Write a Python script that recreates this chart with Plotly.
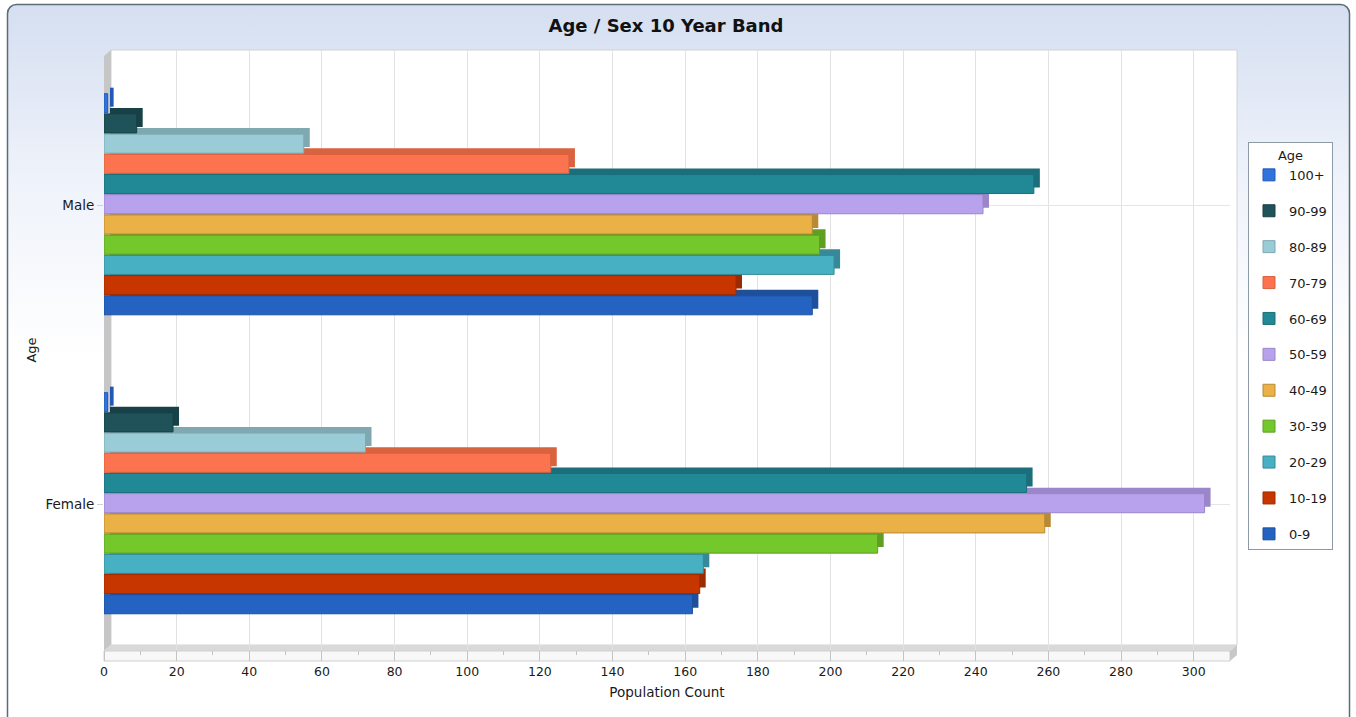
import base64
import plotly.graph_objects as go

# ---- data -------------------------------------------------------------
sexes = ["Female", "Male"]
age_bands = ["0-9", "10-19", "20-29", "30-39", "40-49", "50-59",
             "60-69", "70-79", "80-89", "90-99", "100+"]
male_counts = [195, 174, 201, 197, 195, 242, 256, 128, 55, 9, 1]
female_counts = [162, 164, 165, 213, 259, 303, 254, 123, 72, 19, 1]

front_colors = ["#2463c2", "#c83600", "#47b1c3", "#75c82c", "#eab246", "#b8a2ee",
                "#218996", "#fc7350", "#99ccd6", "#1f5259", "#2e74dc"]
depth_colors = ["#1d4f9b", "#9e2b00", "#37899a", "#5e9f24", "#b98a35", "#9a86c9",
                "#1b6f7a", "#d9623f", "#7fa9b0", "#174047", "#2258b8"]

# ---- geometry of the plot frame (pixels) ---------------------------------
W, H = 1356, 717
L, R, T, B = 104, 126, 50, 67
PW, PH = W - L - R, H - T - B
X_MAX = 310


def px(xp):
    return (xp - L) / PW


def py(yp):
    return 1 - (yp - T) / PH


slot = 0.0676        # bar pitch in category units
bar_w = 0.0636
depth_x = 6 * X_MAX / PW        # 3-D depth, value units
depth_y = 6 / 298               # 3-D depth, category units
n = len(age_bands)

fig = go.Figure()
for i, band in enumerate(age_bands):
    vals = [female_counts[i], male_counts[i]]
    off = (i - (n - 1) / 2) * slot - bar_w / 2 + 0.004
    rank = n - i
    # receding top/side face of the block
    fig.add_trace(go.Bar(
        y=sexes, x=vals, base=depth_x, orientation="h",
        offset=off + depth_y, width=bar_w,
        marker=dict(color=depth_colors[i], line=dict(width=0)),
        showlegend=False, legendgroup=band, legendrank=rank, hoverinfo="skip"))
    # front face
    fig.add_trace(go.Bar(
        y=sexes, x=vals, orientation="h", name=band,
        offset=off, width=bar_w, legendgroup=band, legendrank=rank,
        marker=dict(color=front_colors[i], line=dict(color=depth_colors[i], width=1))))

# ---- panel background with a soft blue gradient -------------------------
svg = f'''<svg xmlns="http://www.w3.org/2000/svg" width="{W}" height="{H}" viewBox="0 0 {W} {H}" preserveAspectRatio="none">
<defs><linearGradient id="g" x1="0" y1="0" x2="0" y2="1">
<stop offset="0" stop-color="#d5dff1"/><stop offset="0.22" stop-color="#eef2fa"/>
<stop offset="0.45" stop-color="#ffffff"/><stop offset="1" stop-color="#ffffff"/></linearGradient></defs>
<rect x="7.5" y="4.5" width="1342" height="780" rx="9" ry="9" fill="url(#g)" stroke="#5d6b78" stroke-width="1.5"/>
</svg>'''
src = "data:image/svg+xml;base64," + base64.b64encode(svg.encode()).decode()

shapes = [
    # back wall
    dict(type="rect", xref="paper", yref="paper", x0=px(111), x1=px(1237), y0=py(645), y1=py(50),
         fillcolor="#ffffff", line=dict(color="#d2d2d2", width=1), layer="below"),
    # left wall
    dict(type="path", xref="paper", yref="paper",
         path=f"M {px(104)} {py(56)} L {px(111)} {py(50)} L {px(111)} {py(645)} L {px(104)} {py(651)} Z",
         fillcolor="#c6c6c6", line=dict(width=0), layer="between"),
    # floor
    dict(type="path", xref="paper", yref="paper",
         path=f"M {px(104)} {py(651)} L {px(111)} {py(645)} L {px(1237)} {py(645)} L {px(1230)} {py(651)} Z",
         fillcolor="#d9d9d9", line=dict(width=0), layer="between"),
    # axis band
    dict(type="rect", xref="paper", yref="paper", x0=px(104), x1=px(1230), y0=py(661), y1=py(651),
         fillcolor="#f8f8f8", line=dict(color="#d0d0d0", width=1), layer="below"),
    dict(type="path", xref="paper", yref="paper",
         path=f"M {px(1230)} {py(651)} L {px(1237)} {py(645)} L {px(1237)} {py(655)} L {px(1230)} {py(661)} Z",
         fillcolor="#c8c8c8", line=dict(width=0), layer="below"),
]

font_family = "DejaVu Sans"
fig.update_layout(
    width=W, height=H,
    margin=dict(l=L, r=R, t=T, b=B),
    barmode="overlay",
    paper_bgcolor="#ffffff",
    plot_bgcolor="rgba(0,0,0,0)",
    font=dict(family=font_family, size=12, color="#1a1a1a"),
    title=dict(text="<b>Age / Sex 10 Year Band</b>", x=666 / W, xref="container", xanchor="center",
               y=1 - 26 / H, yref="container", yanchor="middle",
               font=dict(family=font_family, size=18, color="#111111")),
    images=[dict(source=src, xref="paper", yref="paper", x=px(0), y=py(0),
                 sizex=W / PW, sizey=H / PH, xanchor="left", yanchor="top",
                 sizing="stretch", layer="below")],
    shapes=shapes,
    xaxis=dict(range=[0, X_MAX], dtick=20, tick0=0, showgrid=True, gridcolor="#e2e2e2",
               zeroline=False, showline=False, ticks="outside", ticklen=10, tickcolor="#c4c4c4",
               minor=dict(dtick=10, ticks="outside", ticklen=4, tickcolor="#c4c4c4", showgrid=False),
               title=dict(text="Population Count", standoff=9, font=dict(size=13.5)),
               tickfont=dict(size=12.5)),
    yaxis=dict(type="category", categoryorder="array", categoryarray=sexes,
               range=[-0.487, 1.52], showgrid=True, gridcolor="#e6e6e6", zeroline=False,
               ticks="outside", ticklen=6, tickcolor="#d0d0d0", showline=False,
               title=dict(text="Age", standoff=5, font=dict(size=13)), tickfont=dict(size=13.5)),
    legend=dict(x=px(1248), y=py(142), xanchor="left", yanchor="top",
                traceorder="grouped", tracegroupgap=16,
                bgcolor="#ffffff", bordercolor="#8d9aa6", borderwidth=1,
                font=dict(size=13),
                title=dict(text="Age", side="top center", font=dict(size=13))),
)

fig.write_html("out.html")
